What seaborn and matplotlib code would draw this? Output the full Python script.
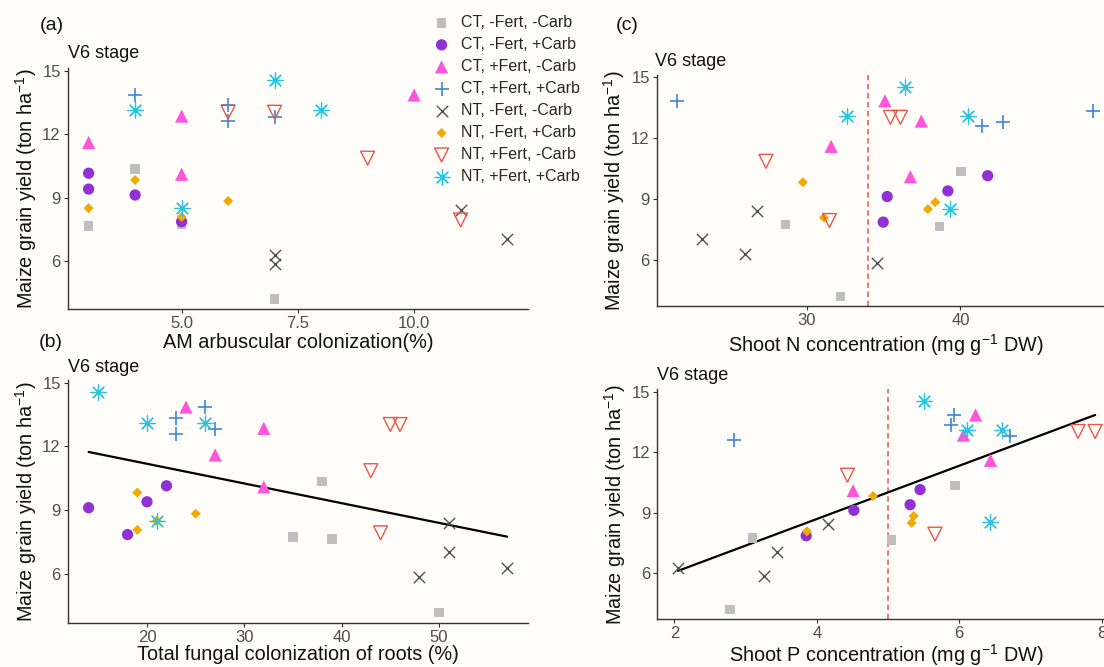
import numpy as np
import pandas as pd
import matplotlib
matplotlib.use("Agg")
import matplotlib.pyplot as plt
import seaborn as sns

# ---------------- data ----------------
treatments = ["CT, -Fert, -Carb", "CT, -Fert, +Carb", "CT, +Fert, -Carb", "CT, +Fert, +Carb",
              "NT, -Fert, -Carb", "NT, -Fert, +Carb", "NT, +Fert, -Carb", "NT, +Fert, +Carb"]

# maize grain yield (ton/ha), 4 plots per treatment
yield_v6 = [[7.65, 10.35, 7.75, 4.2],
            [10.15, 9.4, 9.12, 7.86],
            [11.6, 12.85, 10.1, 13.85],
            [13.85, 13.35, 12.6, 12.82],
            [6.28, 5.85, 8.42, 7.04],
            [8.5, 9.83, 8.08, 8.84],
            [13.03, 13.03, 10.86, 7.94],
            [13.12, 8.52, 14.55, 13.12]]

# AM arbuscular colonization (%)
am_arbuscular = [[3, 4, 5, 7], [3, 3, 4, 5], [3, 5, 5, 10], [4, 6, 6, 7],
                 [7, 7, 11, 12], [3, 4, 5, 6], [6, 7, 9, 11], [4, 5, 7, 8]]

# total fungal colonization of roots (%)
fungal_total = [[39, 38, 35, 50], [22, 20, 14, 18], [27, 32, 32, 24], [26, 23, 23, 27],
                [57, 48, 51, 51], [21, 19, 19, 25], [45, 46, 43, 44], [20, 21, 15, 26]]

# shoot N concentration (mg/g DW)
shoot_n = [[38.64, 40.04, 28.6, 32.2], [41.77, 39.18, 35.23, 34.97],
           [31.58, 37.45, 36.74, 35.08], [21.58, 48.64, 41.4, 42.79],
           [26.0, 34.54, 26.76, 23.15], [37.88, 29.74, 31.12, 38.36],
           [35.44, 36.09, 27.34, 31.47], [32.59, 39.29, 36.41, 40.47]]

# shoot P concentration (mg/g DW)
shoot_p = [[5.05, 5.94, 3.10, 2.78], [5.45, 5.31, 4.52, 3.85],
           [6.44, 6.06, 4.51, 6.23], [5.92, 5.89, 2.83, 6.72],
           [2.05, 3.26, 4.15, 3.44], [5.33, 4.79, 3.86, 5.36],
           [7.67, 7.91, 4.43, 5.66], [6.11, 6.43, 5.50, 6.60]]

n_critical = 34.0
p_critical = 5.0

x_ticks_a = [5.0, 7.5, 10.0]
x_ticks_b = [20, 30, 40, 50]
x_ticks_c = [30, 40]
x_ticks_d = [2, 4, 6, 8]
y_ticks = [6, 9, 12, 15]

# ---------------- styling ----------------
colors = ["#BEBEBE", "#9131D4", "#FF55DB", "#3F86D8",
          "#505050", "#F2A900", "#EB5548", "#2CC4DF"]
markers = ["s", "o", "^", "+", "x", "D", "v", (8, 2, 0)]
kinds = ["filled", "filled", "filled", "line", "line", "filled", "open", "line"]
sizes = [46, 66, 90, 115, 66, 26, 100, 120]
lws = [0, 0, 0, 1.2, 1.0, 0, 1.0, 0.9]

BG = "#FFFDFA"
sns.set_theme(style="ticks")
plt.rcParams["font.family"] = ["Liberation Sans", "DejaVu Sans"]
plt.rcParams["mathtext.fontset"] = "custom"
plt.rcParams["mathtext.rm"] = "Liberation Sans"
plt.rcParams["mathtext.it"] = "Liberation Sans:italic"
plt.rcParams["mathtext.default"] = "regular"

rows = []
for t, ys, a, f, n, p in zip(treatments, yield_v6, am_arbuscular, fungal_total, shoot_n, shoot_p):
    for i in range(len(ys)):
        rows.append({"treatment": t, "yield": ys[i], "am": a[i], "fungal": f[i],
                     "shoot_n": n[i], "shoot_p": p[i]})
df = pd.DataFrame(rows)

W, H = 1104, 667
fig = plt.figure(figsize=(W / 100, H / 100), dpi=100, facecolor=BG)


def add_ax(l, t, r, b):
    ax = fig.add_axes([l / W, 1 - b / H, (r - l) / W, (b - t) / H])
    ax.set_facecolor(BG)
    return ax


ax_a = add_ax(67.7, 68, 528, 309.3)
ax_b = add_ax(67.7, 380, 528, 622.7)
ax_c = add_ax(656.7, 75, 1114, 306)
ax_d = add_ax(657.2, 389.3, 1116, 619.3)

ylab = r"Maize grain yield (ton ha$^{-1}$)"
LABEL_FS = 14.3


def draw(ax, xcol):
    for k, t in enumerate(treatments):
        sub = df[df["treatment"] == t]
        kw = dict(marker=markers[k], s=sizes[k], linewidth=lws[k], zorder=3, label=t)
        if kinds[k] == "filled":
            kw.update(color=colors[k], edgecolor="none")
        elif kinds[k] == "open":
            kw.update(color=colors[k], facecolor="none", edgecolor=colors[k])
        else:
            kw.update(color=colors[k])
        sns.scatterplot(data=sub, x=xcol, y="yield", ax=ax, legend=False, **kw)


def finish(ax, xticks, xlabel, xlab_y, ylab_x):
    ax.set_ylim(3.72, 15.12)
    ax.set_yticks(y_ticks)
    ax.set_xticks(xticks)
    for s in ["top", "right"]:
        ax.spines[s].set_visible(False)
    for s in ["left", "bottom"]:
        ax.spines[s].set_color("#333333")
        ax.spines[s].set_linewidth(1.0)
    ax.tick_params(length=3, width=0.8, color="#333333", labelcolor="#4D4D4D",
                   labelsize=12, pad=2)
    ax.set_xlabel(xlabel, fontsize=LABEL_FS, color="#111111")
    ax.set_ylabel(ylab, fontsize=LABEL_FS, color="#111111")
    ax.xaxis.set_label_coords(0.5, xlab_y)
    ax.yaxis.set_label_coords(ylab_x, 0.5)


draw(ax_a, "am")
draw(ax_b, "fungal")
draw(ax_c, "shoot_n")
draw(ax_d, "shoot_p")

# regression lines
sns.regplot(data=df, x="fungal", y="yield", scatter=False, ci=None, color="black",
            line_kws=dict(lw=1.6, zorder=2), ax=ax_b, truncate=True)
sns.regplot(data=df, x="shoot_p", y="yield", scatter=False, ci=None, color="black",
            line_kws=dict(lw=1.6, zorder=2), ax=ax_d, truncate=True)

# critical concentration lines
ax_c.axvline(n_critical, color="#EE6A6A", ls=(0, (3, 2)), lw=1.3, zorder=1)
ax_d.axvline(p_critical, color="#EE6A6A", ls=(0, (3, 2)), lw=1.3, zorder=1)

finish(ax_a, x_ticks_a, "AM arbuscular colonization(%)", -0.100, -0.063)
finish(ax_b, x_ticks_b, "Total fungal colonization of roots (%)", -0.093, -0.063)
finish(ax_c, x_ticks_c, r"Shoot N concentration (mg g$^{-1}$ DW)", -0.115, -0.065)
finish(ax_d, x_ticks_d, r"Shoot P concentration (mg g$^{-1}$ DW)", -0.100, -0.064)

# panel letters and stage labels
for txt, x, y in [("(a)", 40, 25), ("(b)", 39, 343), ("(c)", 616, 25)]:
    fig.text(x / W, 1 - y / H, txt, ha="left", va="center", fontsize=14, color="#111111")
for x, y in [(67.7, 54), (67.7, 368), (655, 62), (657, 375)]:
    fig.text(x / W, 1 - y / H, "V6 stage", ha="left", va="center", fontsize=13, color="#111111")

handles, labels = ax_a.get_legend_handles_labels()
fig.legend(handles, labels, loc="upper left", bbox_to_anchor=(432 / W, 1 - 15 / H),
           frameon=False, fontsize=11.5, handlelength=1.2, handletextpad=0.6,
           labelspacing=0.44, borderpad=0, borderaxespad=0, scatterpoints=1)

fig.savefig("out.png", dpi=100, facecolor=BG)
